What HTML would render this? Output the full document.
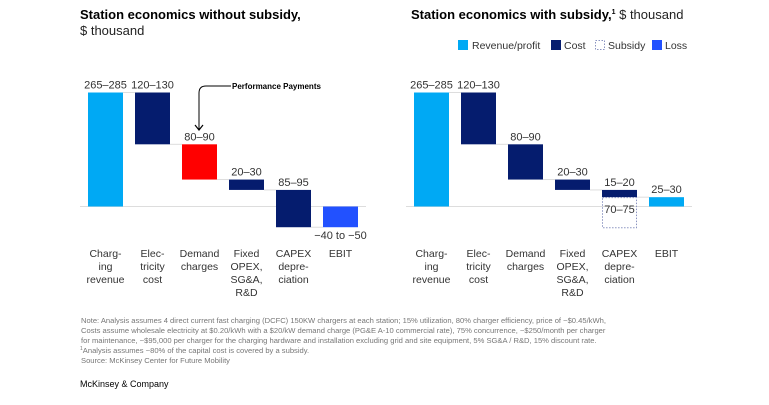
<!DOCTYPE html>
<html><head><meta charset="utf-8"><style>
body{margin:0;background:#fff;font-family:"Liberation Sans",sans-serif;}
svg text{font-family:"Liberation Sans",sans-serif;}
</style></head><body>
<svg width="769" height="400" xmlns="http://www.w3.org/2000/svg" id="chart">
<text x="80" y="19" font-size="13" font-weight="bold" fill="#000">Station economics without subsidy,</text>
<text x="80" y="35" font-size="13" fill="#222">$ thousand</text>
<text x="411" y="19" font-size="13" font-weight="bold" fill="#000">Station economics with subsidy,<tspan font-size="7" dy="-5">1</tspan><tspan dy="5" font-weight="normal" fill="#222"> $ thousand</tspan></text>
<g>
<rect x="458" y="40" width="10" height="10" fill="#00a9f4"/>
<text x="472" y="49" font-size="10.5" fill="#333">Revenue/profit</text>
<rect x="551" y="40" width="10" height="10" fill="#051c6e"/>
<text x="564" y="49" font-size="10.5" fill="#333">Cost</text>
<rect x="595.5" y="40.5" width="9" height="9" fill="none" stroke="#8a93c0" stroke-dasharray="1.5,1.5"/>
<text x="608" y="49" font-size="10.5" fill="#333">Subsidy</text>
<rect x="652" y="40" width="10" height="10" fill="#2251ff"/>
<text x="665" y="49" font-size="10.5" fill="#333">Loss</text>
</g>
<g id="left"></g>
<g id="right"></g>
<g>
<path d="M231,86 L206,86 Q199,86 199,93 L199,129" fill="none" stroke="#000" stroke-width="1"/>
<path d="M195,125 L199,130 L203,125" fill="none" stroke="#000" stroke-width="1.2"/>
<text x="232" y="89" font-size="8" font-weight="bold" fill="#000">Performance Payments</text>
</g>
<g font-size="7.6" fill="#777">
<text x="81" y="323">Note: Analysis assumes 4 direct current fast charging (DCFC) 150KW chargers at each station; 15% utilization, 80% charger efficiency, price of ~$0.45/kWh,</text>
<text x="81" y="333">Costs assume wholesale electricity at $0.20/kWh with a $20/kW demand charge (PG&amp;E A-10 commercial rate), 75% concurrence, ~$250/month per charger</text>
<text x="81" y="343">for maintenance, ~$95,000 per charger for the charging hardware and installation excluding grid and site equipment, 5% SG&amp;A / R&amp;D, 15% discount rate.</text>
<text x="80" y="353"><tspan font-size="5" dy="-3">1</tspan><tspan dy="3">Analysis assumes ~80% of the capital cost is covered by a subsidy.</tspan></text>
<text x="81" y="363">Source: McKinsey Center for Future Mobility</text>
</g>
<text x="80" y="387" font-size="9" fill="#000">McKinsey &amp; Company</text>
</svg>
<script>
const categories=[["Charg-","ing","revenue"],["Elec-","tricity","cost"],["Demand","charges"],["Fixed","OPEX,","SG&A,","R&D"],["CAPEX","depre-","ciation"],["EBIT"]];
const leftValues=[275,-125,-85,-25,-90,-50];
const leftLabels=["265–285","120–130","80–90","20–30","85–95","−40 to −50"];
const rightValues=[275,-125,-85,-25,-17.5,22.5];
const rightLabels=["265–285","120–130","80–90","20–30","15–20","25–30"];
const subsidyValue=72.5;
const subsidyLabel="70–75";
const NS="http://www.w3.org/2000/svg";
const scale=114/275, base=206.5, bw=35;
function y(v){return base-v*scale;}
function mk(tag,attrs,parent){const e=document.createElementNS(NS,tag);for(const k in attrs)e.setAttribute(k,attrs[k]);parent.appendChild(e);return e;}
function draw(gid,x0,vals,labels,colorsFn,subsidy){
  const g=document.getElementById(gid), pitch=47;
  const base_line=mk('line',{x1:x0-8,x2:x0+5*pitch+bw+8,y1:base,y2:base,stroke:'#ddd','stroke-width':1},g);
  
  
  let cum=0;
  vals.forEach((v,i)=>{
    const x=x0+i*pitch;
    let a,b;
    if(i===0||i===vals.length-1){a=0;b=v;}else{a=cum;b=cum+v;}
    if(i===0)cum=v;else if(i<vals.length-1)cum+=v;
    const top=Math.min(y(a),y(b)), h=Math.abs(y(a)-y(b));
    if(i<vals.length-1){
      const nx=x+bw, ny=y(i===0?cum:cum);
      const c=mk('line',{x1:nx,x2:nx+pitch-bw,y1:y(cum),y2:y(cum),stroke:'#ddd','stroke-width':1},g);
      
      
    }
    const r=mk('rect',{x:x,y:top,width:bw,height:h,fill:colorsFn(i,v)},g);
    
    
    const below=(i===vals.length-1&&v<0);
    const t=mk('text',{x:x+bw/2,y:below?top+h+12:top-4,'font-size':11,fill:'#333','text-anchor':'middle'},g);
    t.textContent=labels[i];
    
    
    const ct=mk('text',{x:x+bw/2,y:257,'font-size':10.5,fill:'#333','text-anchor':'middle'},g);
    
    
    categories[i].forEach((s,j)=>{const ts=mk('tspan',{x:x+bw/2,dy:j?13:0},ct);ts.textContent=s;});
    if(subsidy&&i===4){
      const sb=mk('rect',{x:x+0.5,y:y(b)+0.5,width:bw-1,height:subsidy*scale,fill:'none',stroke:'#8a93c0','stroke-dasharray':'1.5,1.5'},g);
      
      
      const st=mk('text',{x:x+bw/2,y:y(b)+16,'font-size':11,fill:'#333','text-anchor':'middle'},g);
      st.textContent=subsidyLabel;
      
      
    }
  });
}
draw('left',88,leftValues,leftLabels,(i,v)=>i===0?'#00a9f4':i===2?'#ff0000':i===5?'#2251ff':'#051c6e',0);
draw('right',414,rightValues,rightLabels,(i,v)=>(i===0||i===5)?'#00a9f4':'#051c6e',subsidyValue);
</script>
</body></html>
